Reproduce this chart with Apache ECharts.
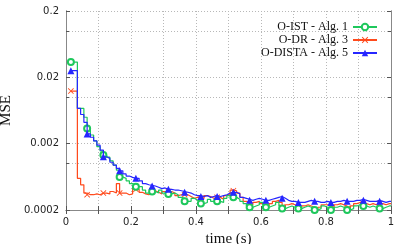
<!DOCTYPE html>
<html><head><meta charset="utf-8">
<script src="https://cdn.jsdelivr.net/npm/echarts@6/dist/echarts.min.js"></script>
<style>html,body{margin:0;padding:0;background:#fff}#c{width:407px;height:244px}</style>
</head><body><div id="c"></div>
<script>
// time stamps (s)
const times = [0.015,0.025,0.035,0.045,0.055,0.065,0.075,0.085,0.095,0.105,
0.115,0.125,0.135,0.145,0.155,0.165,0.175,0.185,0.195,0.205,
0.215,0.225,0.235,0.245,0.255,0.265,0.275,0.285,0.295,0.305,
0.315,0.325,0.335,0.345,0.355,0.365,0.375,0.385,0.395,0.405,
0.415,0.425,0.435,0.445,0.455,0.465,0.475,0.485,0.495,0.505,
0.515,0.525,0.535,0.545,0.555,0.565,0.575,0.585,0.595,0.605,
0.615,0.625,0.635,0.645,0.655,0.665,0.675,0.685,0.695,0.705,
0.715,0.725,0.735,0.745,0.755,0.765,0.775,0.785,0.795,0.805,
0.815,0.825,0.835,0.845,0.855,0.865,0.875,0.885,0.895,0.905,
0.915,0.925,0.935,0.945,0.955,0.965,0.975,0.985,0.995,1.0];
// O-IST - Alg. 1
const msIST = [0.034,0.034,0.0068,0.0068,0.0050,0.0034,0.0027,0.0022,0.0018,0.00155,
0.00135,0.00125,0.0011,0.00095,0.0008,0.00063,0.0006,0.00055,0.0005,0.00047,
0.00045,0.00045,0.0004,0.00036,0.00038,0.00038,0.00036,0.0004,0.00036,0.00034,
0.00035,0.00036,0.00034,0.00031,0.0003,0.00027,0.00027,0.0003,0.00028,0.00027,
0.00025,0.00026,0.00029,0.00027,0.00028,0.00027,0.00026,0.0003,0.00033,0.00032,
0.00031,0.00029,0.00027,0.00025,0.00023,0.00022,0.00023,0.00024,0.00026,0.00024,
0.00022,0.00023,0.00024,0.00026,0.00023,0.00021,0.00022,0.00023,0.00022,0.00021,
0.00021,0.00022,0.00023,0.00022,0.00021,0.0002,0.00021,0.00023,0.00022,0.00021,
0.0002,0.00022,0.00023,0.00022,0.00021,0.0002,0.00021,0.00023,0.00024,0.00023,
0.00023,0.00022,0.00023,0.00022,0.00021,0.00021,0.00022,0.00023,0.00023,0.00023];
// O-DR - Alg. 3
const msDR = [0.0124,0.0124,0.0006,0.00048,0.00036,0.00034,0.00034,0.00035,0.00034,0.00036,
0.00036,0.00035,0.00038,0.00036,0.0005,0.00036,0.00036,0.00034,0.00035,0.00043,
0.00041,0.00037,0.00035,0.00034,0.00036,0.00039,0.00037,0.00035,0.00038,0.00037,
0.00038,0.00036,0.00033,0.00034,0.00035,0.00034,0.00032,0.0003,0.00031,0.00031,
0.0003,0.00033,0.00032,0.0003,0.00031,0.00031,0.00029,0.00033,0.00035,0.0004,
0.00039,0.00036,0.00031,0.00027,0.00026,0.00024,0.00026,0.00027,0.00025,0.00024,
0.00023,0.00025,0.00027,0.00028,0.00026,0.00022,0.00024,0.00025,0.00024,0.00023,
0.00021,0.00023,0.00024,0.00023,0.00022,0.0002,0.00022,0.00024,0.00024,0.00023,
0.00022,0.00024,0.00025,0.00024,0.00023,0.00021,0.00023,0.00025,0.00026,0.00026,
0.00025,0.00024,0.00025,0.00024,0.00025,0.00025,0.00024,0.00025,0.00025,0.00025];
// O-DISTA - Alg. 5
const msDISTA = [0.0252,0.0252,0.0068,0.0055,0.0042,0.0028,0.0025,0.0022,0.0019,0.0016,
0.00127,0.0012,0.00105,0.00095,0.00085,0.00078,0.0007,0.00065,0.00062,0.0006,
0.0006,0.00055,0.0005,0.00048,0.00047,0.00046,0.00044,0.00042,0.00043,0.00041,
0.00041,0.0004,0.0004,0.00039,0.00038,0.00037,0.00036,0.00034,0.00033,0.00033,
0.00032,0.00033,0.00031,0.00032,0.00033,0.00032,0.00033,0.00034,0.00036,0.00037,
0.00037,0.00035,0.00031,0.0003,0.00029,0.00028,0.00029,0.0003,0.00029,0.00028,
0.00028,0.00029,0.0003,0.00031,0.00032,0.0003,0.00028,0.00027,0.00027,0.00026,
0.00026,0.00026,0.00027,0.00028,0.00027,0.00027,0.00026,0.00026,0.00027,0.00026,
0.00026,0.00027,0.00027,0.00028,0.00027,0.00027,0.00027,0.00028,0.00028,0.00029,
0.00028,0.00027,0.00027,0.00027,0.00028,0.00027,0.00026,0.00027,0.00027,0.00027];
const seriesNames = ['O-IST - Alg. 1','O-DR - Alg. 3','O-DISTA - Alg. 5'];
const yTickLabels = ['0.0002','0.002','0.02','0.2'];
const xTickLabels = ['0','0.2','0.4','0.6','0.8','1'];

const colors = ['#1ec85c','#ff4a1c','#2626ff'];
const crossPath = 'path://M1,0L5,4L9,0L10,1L6,5L10,9L9,10L5,6L1,10L0,9L4,5L0,1Z';
const symbols = ['emptyCircle', crossPath, 'triangle'];
const symSizes = [6, 6, 7];
const serif = '"Liberation Serif","DejaVu Serif",serif';
const sans = '"DejaVu Sans","Liberation Sans",sans-serif';
const gridLine = {show:true, lineStyle:{color:'#b8b8b8', type:[1,2], width:1}};
const frame = {show:true, lineStyle:{color:'#888', width:1}};
const tickIn = {show:true, inside:true, length:4, lineStyle:{color:'#555'}};

function makeSeries(idx, vals){
  return {
    name: seriesNames[idx], type:'line', step:'end', xAxisIndex:0, yAxisIndex:0,
    data: times.map((t,i)=>[t, vals[i]]),
    symbol: symbols[idx],
    symbolSize: (v, p) => (p.dataIndex % 5 === 0 && p.dataIndex < 99) ? symSizes[idx] : 0,
    showSymbol: true,
    lineStyle:{color:colors[idx], width:1.2},
    itemStyle:{color:colors[idx], borderColor:colors[idx], borderWidth: idx===0?1.2:0},
    z: [3,2,4][idx]
  };
}

const chart = echarts.init(document.getElementById('c'), null, {renderer:'canvas'});
chart.setOption({
  animation:false,
  backgroundColor:'#fff',
  grid:{left:66, right:16, top:11, bottom:34, show:false, containLabel:false, outerBoundsMode:'none'},
  legend:{
    data: seriesNames, orient:'vertical', right:24, top:16, align:'right',
    itemWidth:24, itemHeight:8, itemGap:1,
    textStyle:{fontFamily:serif, fontSize:12, color:'#111'}
  },
  xAxis:[
    {type:'value', min:0, max:1, interval:0.1, position:'bottom',
     axisLine:frame, axisTick:tickIn, splitLine:gridLine,
     axisLabel:{margin:7, fontFamily:sans, fontSize:10, color:'#222',
       formatter:(v)=>{const k=Math.round(v*10); return k%2===0 ? xTickLabels[k/2] : '';}},
     name:'time (s)', nameLocation:'middle', nameGap:22,
     nameTextStyle:{fontFamily:serif, fontSize:15, color:'#111'}},
    {type:'value', min:0, max:1, interval:0.1, position:'top',
     axisLine:frame, axisTick:tickIn, splitLine:{show:false}, axisLabel:{show:false}}
  ],
  yAxis:[
    {type:'log', logBase:10, min:0.0002, max:0.2, position:'left',
     axisLine:frame, axisTick:{show:true, inside:true, length:3, lineStyle:{color:'#555'}},
     splitLine:gridLine, axisLabel:{show:false}},
    {type:'value', min:0, max:3, interval:1, position:'left',
     axisLine:frame, axisTick:tickIn, splitLine:gridLine,
     axisLabel:{margin:7, fontFamily:sans, fontSize:10, color:'#222',
       formatter:(v)=>yTickLabels[Math.round(v)]},
     name:'MSE', nameLocation:'middle', nameGap:50, nameRotate:90,
     nameTextStyle:{fontFamily:serif, fontSize:15, color:'#111'}},
    {type:'value', min:0, max:3, interval:1, position:'right',
     axisLine:frame, axisTick:tickIn, splitLine:{show:false}, axisLabel:{show:false}},
    {type:'log', logBase:10, min:0.0002, max:0.2, position:'right',
     axisLine:frame, axisTick:{show:true, inside:true, length:3, lineStyle:{color:'#555'}},
     splitLine:{show:false}, axisLabel:{show:false}}
  ],
  series:[ makeSeries(0, msIST), makeSeries(1, msDR), makeSeries(2, msDISTA) ]
});
</script></body></html>
